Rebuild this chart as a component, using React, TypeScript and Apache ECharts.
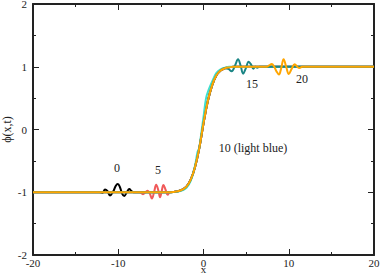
import React, { useEffect, useRef } from "react";
import * as echarts from "echarts";

// Tick values
const xTicks = [-20, -10, 0, 10, 20];
const yTicks = [-2, -1, 0, 1, 2];

// Shared kink profile
const kink: number[][] = [
  [-3.5, -0.995], [-3, -0.985], [-2.5, -0.96], [-2, -0.91], [-1.5, -0.8],
  [-1, -0.6], [-0.5, -0.3], [0, 0.1], [0.5, 0.45], [1, 0.7], [1.5, 0.86],
  [2, 0.94], [2.5, 0.975], [3, 0.99], [3.5, 1.0],
];

// t = 0 (black)
const t0Packet: number[][] = [
  [-20, -1], [-15, -1], [-12.2, -1], [-11.85, -1.01], [-11.55, -0.955], [-11.28, -0.98],
  [-10.97, -1.05], [-10.6, -0.99], [-10.3, -0.9], [-10.05, -0.87], [-9.8, -0.92],
  [-9.55, -1.02], [-9.3, -1.06], [-9.0, -1.0], [-8.7, -0.95], [-8.45, -0.98],
  [-8.2, -1.0], [-6, -1.0], [-4, -1.0],
];
const t0Tail: number[][] = [[4, 1], [10, 1], [20, 1]];

// t = 5 (red)
const t5Packet: number[][] = [
  [-20, -1], [-15, -1], [-10, -1], [-7.5, -1], [-7.1, -1.03], [-6.8, -1.0], [-6.55, -0.975],
  [-6.3, -1.02], [-6.05, -1.1], [-5.8, -1.0], [-5.55, -0.88], [-5.3, -0.97],
  [-5.1, -1.08], [-4.9, -0.98], [-4.7, -0.885], [-4.45, -0.96], [-4.2, -1.04],
  [-3.95, -1.0],
];
const t5Tail: number[][] = [[4, 1], [10, 1], [20, 1]];

// t = 10 (light blue)
const t10Points: number[][] = [
  [-20, -1], [-10, -1], [-4, -1], [-3.5, -0.998], [-3, -0.99], [-2.5, -0.97], [-2, -0.93],
  [-1.5, -0.82], [-1, -0.58], [-0.7, -0.36], [-0.5, -0.29], [-0.3, -0.1],
  [0, 0.2], [0.3, 0.5], [0.6, 0.63], [1, 0.76], [1.5, 0.9], [2, 0.96],
  [2.5, 0.985], [3, 1.0], [4, 1.0], [10, 1], [20, 1],
];

// t = 15 (teal)
const t15Head: number[][] = [[-20, -1], [-10, -1], [-4, -1]];
const t15Packet: number[][] = [
  [2.9, 0.965], [3.3, 0.93], [3.7, 1.02], [4.05, 1.12], [4.35, 1.02],
  [4.65, 0.89], [4.95, 0.97], [5.3, 1.08], [5.6, 1.03], [5.85, 0.97],
  [6.1, 1.0], [6.3, 0.985], [6.6, 1.0], [8, 1], [12, 1], [20, 1],
];

// t = 20 (orange)
const t20Head: number[][] = [[-20, -1], [-15, -1], [-10, -1], [-6, -1], [-4, -1]];
const t20Packet: number[][] = [
  [4, 1.0], [6, 1.0], [7.4, 1.0], [7.7, 1.02], [8.0, 1.045], [8.3, 1.0],
  [8.55, 0.93], [8.85, 0.875], [9.1, 0.97], [9.4, 1.12], [9.7, 1.0],
  [10.0, 0.885], [10.35, 0.97], [10.7, 1.04], [11.0, 1.0], [11.25, 0.98],
  [11.6, 1.0], [14, 1], [20, 1],
];

const seriesNames = ["0", "5", "10", "15", "20"];
const seriesColors = ["#000000", "#f05a5a", "#40e0d0", "#1a8585", "#ffa500"];

const annotations = [
  { text: "0", x: 117, y: 168 },
  { text: "5", x: 158, y: 170 },
  { text: "10 (light blue)", x: 253, y: 148 },
  { text: "15", x: 252, y: 84 },
  { text: "20", x: 302, y: 79 },
];

const FONT = "'Liberation Serif', 'DejaVu Serif', 'Times New Roman', serif";

export default function App() {
  const ref = useRef<HTMLDivElement>(null);
  useEffect(() => {
    if (!ref.current) return;
    const chart = echarts.init(ref.current, null, { renderer: "svg" });
    const datasets = [
      [...t0Packet, ...kink, ...t0Tail],
      [...t5Packet, ...kink, ...t5Tail],
      t10Points,
      [...t15Head, ...kink.slice(0, 13), ...t15Packet],
      [...t20Head, ...kink, ...t20Packet],
    ];
    const axisLine = { show: true, onZero: false, lineStyle: { color: "#222", width: 2 } };
    const labelStyle = { fontFamily: FONT, fontSize: 11, color: "#222" };
    const xCommon = {
      type: "value" as const,
      min: -20,
      max: 20,
      interval: 10,
      axisLine,
      axisTick: { show: true, inside: true, length: 6, lineStyle: { color: "#222", width: 1 } },
      minorTick: { show: true, splitNumber: 2, length: 3, lineStyle: { color: "#222", width: 1 } },
      splitLine: { show: false },
      minorSplitLine: { show: false },
    };
    const yCommon = {
      type: "value" as const,
      min: -2,
      max: 2,
      interval: 1,
      axisLine,
      axisTick: { show: true, inside: true, length: 6, lineStyle: { color: "#222", width: 1 } },
      minorTick: { show: true, splitNumber: 2, length: 3, lineStyle: { color: "#222", width: 1 } },
      splitLine: { show: false },
      minorSplitLine: { show: false },
    };
    chart.setOption({
      animation: false,
      backgroundColor: "#ffffff",
      textStyle: { fontFamily: FONT },
      grid: {
        left: 33,
        right: 8,
        top: 4,
        bottom: 18,
        containLabel: false,
        outerBoundsMode: "none",
      },
      xAxis: [
        {
          ...xCommon,
          position: "bottom",
          axisLabel: { ...labelStyle, margin: 2, formatter: (v: number) => (xTicks.includes(v) ? String(v) : "") },
          name: "x",
          nameLocation: "middle",
          nameGap: 9,
          nameMoveOverlap: false,
          nameTextStyle: { fontFamily: FONT, fontSize: 11, color: "#222", lineHeight: 9 },
        },
        { ...xCommon, position: "top", axisLabel: { show: false } },
      ],
      yAxis: [
        {
          ...yCommon,
          position: "left",
          axisLabel: { ...labelStyle, margin: 6, formatter: (v: number) => (yTicks.includes(v) ? String(v) : "") },
          name: "ϕ(x,t)",
          nameLocation: "middle",
          nameGap: 20,
          nameRotate: 90,
          nameMoveOverlap: false,
          nameTextStyle: { fontFamily: FONT, fontSize: 12, color: "#222" },
        },
        { ...yCommon, position: "right", axisLabel: { show: false } },
      ],
      series: datasets.map((d, i) => ({
        name: seriesNames[i],
        type: "line",
        data: d,
        xAxisIndex: 0,
        yAxisIndex: 0,
        showSymbol: false,
        smooth: 0.4,
        lineStyle: { color: seriesColors[i], width: 2 },
        z: 2 + i,
      })),
      graphic: annotations.map((a) => ({
        type: "text",
        x: a.x,
        y: a.y,
        style: {
          text: a.text,
          fontFamily: FONT,
          fontSize: 12,
          fill: "#222",
          align: "center",
          verticalAlign: "middle",
        },
      })),
    });
    return () => chart.dispose();
  }, []);
  return (
    <div
      ref={ref}
      style={{ position: "absolute", left: 0, top: 0, width: 382, height: 273 }}
    />
  );
}
